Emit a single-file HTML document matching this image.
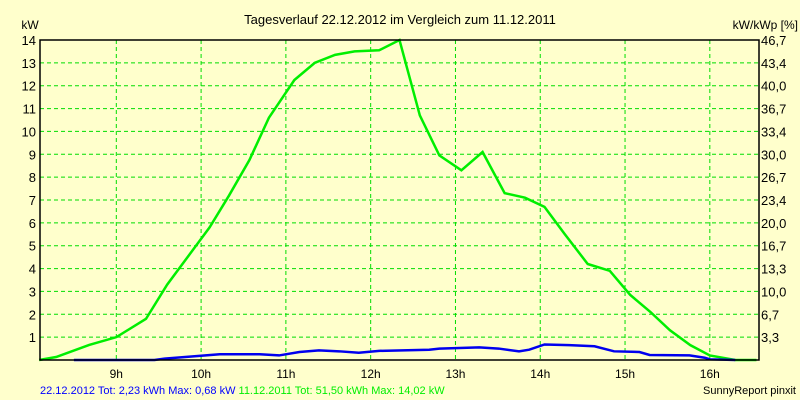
<!DOCTYPE html>
<html><head><meta charset="utf-8"><style>
body{margin:0;background:#ffffcc;}
svg{display:block;font-family:"Liberation Sans",sans-serif;}
</style></head><body>
<svg id="c" width="800" height="400">
<rect width="800" height="400" fill="#ffffcc"/>
<text x="400" y="24" font-size="13" text-anchor="middle">Tagesverlauf 22.12.2012 im Vergleich zum 11.12.2011</text>
<text x="30" y="29" font-size="12" text-anchor="middle">kW</text>
<text x="798" y="29" font-size="12" text-anchor="end">kW/kWp [%]</text>
<g id="grid"></g><g id="lines"></g><g id="axes"></g>
<text x="40" y="394" font-size="11"><tspan fill="#0000ff">22.12.2012 Tot: 2,23 kWh Max: 0,68 kW </tspan><tspan fill="#00ee00">11.12.2011 Tot: 51,50 kWh Max: 14,02 kW</tspan></text>
<text x="796" y="394" font-size="11" text-anchor="end">SunnyReport pinxit</text>
</svg>
<script>
const hourTicks=[9,10,11,12,13,14,15,16];
const kwTicks=[1,2,3,4,5,6,7,8,9,10,11,12,13,14];
const pctLabels=["3,3","6,7","10,0","13,3","16,7","20,0","23,4","26,7","30,0","33,4","36,7","40,0","43,4","46,7"];
const pctTicks=[1,2,3,4,5,6,7,8,9,10,11,12,13,14];
const greenTimes=[8.09,8.29,8.68,9.0,9.35,9.6,9.86,10.1,10.33,10.57,10.8,11.1,11.34,11.58,11.81,12.1,12.34,12.58,12.81,13.07,13.32,13.58,13.82,14.05,14.29,14.56,14.82,15.06,15.3,15.53,15.77,16.0,16.3,16.55];
const greenKw=[0,0.13,0.66,1.0,1.8,3.3,4.6,5.8,7.2,8.75,10.6,12.25,13.0,13.35,13.5,13.55,14.0,10.7,8.95,8.3,9.1,7.3,7.1,6.7,5.5,4.2,3.9,2.85,2.1,1.3,0.65,0.2,0,0];
const blueTimes=[8.5,9.45,9.57,9.98,10.22,10.69,10.92,11.16,11.39,11.63,11.86,12.1,12.69,12.81,13.28,13.51,13.75,13.87,14.05,14.34,14.64,14.87,15.17,15.29,15.76,15.94,16.0,16.3];
const blueKw=[0,0,0.06,0.18,0.25,0.25,0.2,0.35,0.42,0.38,0.32,0.4,0.45,0.5,0.55,0.5,0.38,0.45,0.68,0.65,0.6,0.38,0.35,0.22,0.2,0.1,0.03,0];
const L=40,R=759,T=40,B=360,H0=8.1,H1=16.58;
const xs=h=>L+(h-H0)/(H1-H0)*(R-L);
const ys=v=>B-v/14*(B-T);
const NS="http://www.w3.org/2000/svg";
function mk(tag,parent,attrs){const e=document.createElementNS(NS,tag);for(const k in attrs)e.setAttribute(k,attrs[k]);parent.appendChild(e);return e;}
const g=document.getElementById('grid'),ln=document.getElementById('lines'),ax=document.getElementById('axes');
hourTicks.forEach(h=>{const x=xs(h);
 const l=mk('line',g,{x1:x,x2:x,y1:T,y2:B,stroke:'#00dd00','stroke-dasharray':'4,3'});
 
 
 const t=mk('text',ax,{x:x,y:378,'font-size':12,'text-anchor':'middle'});t.textContent=h+'h';
 
 });
kwTicks.forEach(v=>{const y=ys(v);
 const l=mk('line',g,{x1:L,x2:R,y1:y,y2:y,stroke:'#00dd00','stroke-dasharray':'4,3'});
 
 
 const t=mk('text',ax,{x:36,y:y+5,'font-size':13,'text-anchor':'end'});t.textContent=v;
 
 });
pctTicks.forEach((v,i)=>{const t=mk('text',ax,{x:R+2,y:ys(v)+5,'font-size':13});t.textContent=pctLabels[i];
 
 });
const a=mk('path',ax,{d:`M${L},${T}H${R}V${B}H${L}Z`,fill:'none',stroke:'#000','stroke-width':1.5});


const gp=mk('polyline',ln,{points:greenTimes.map((h,i)=>xs(h)+','+ys(greenKw[i])).join(' '),fill:'none',stroke:'#00ee00','stroke-width':2.5});


const bp=mk('polyline',ln,{points:blueTimes.map((h,i)=>xs(h)+','+ys(blueKw[i])).join(' '),fill:'none',stroke:'#0000ee','stroke-width':2.5});


</script>
</body></html>
